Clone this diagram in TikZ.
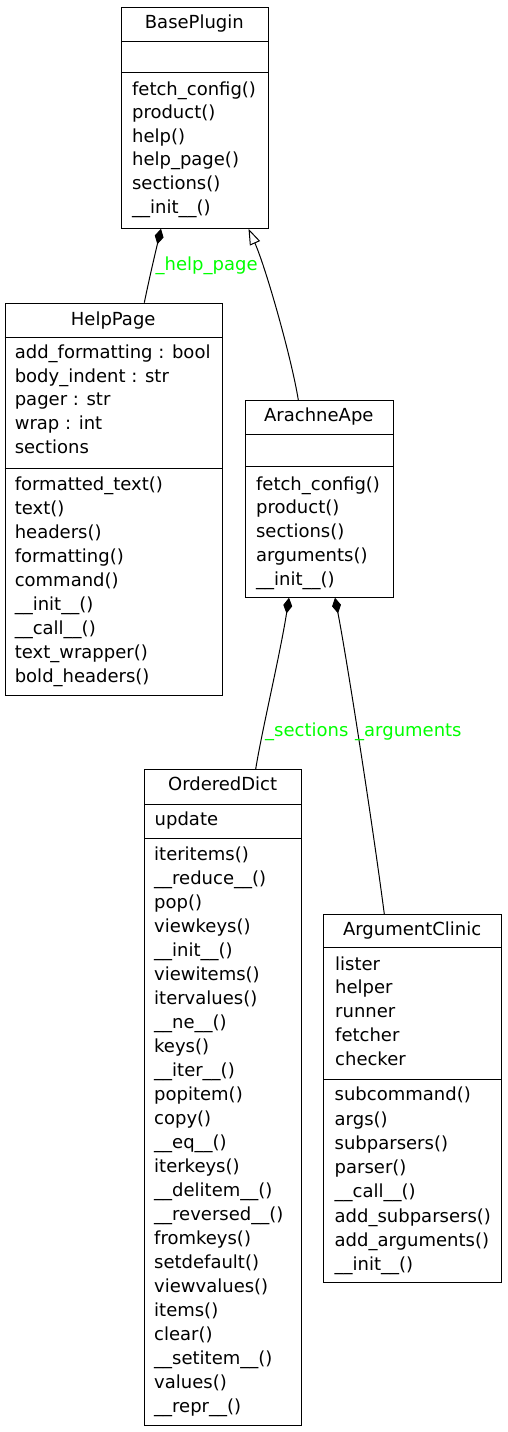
\documentclass[tikz,border=0pt]{standalone}
\usepackage{fontspec}
\setmainfont{DejaVu Sans}
\usetikzlibrary{arrows.meta}
\definecolor{lblgreen}{RGB}{0,255,0}
\newcommand\members[5]{%
  \foreach \t [count=\i] in {#5} {\node[txt] (#1-\i) at ({#2},{#3+(\i-1)*#4}) {\t};}}
\begin{document}
\begin{tikzpicture}[x=1pt,y=-1pt,
  box/.style={draw, line width=1pt, inner sep=0pt, anchor=north west},
  div/.style={line width=1pt},
  txt/.style={inner sep=0pt, anchor=base west, font=\fontsize{18}{24}\selectfont},
  ttl/.style={inner sep=0pt, anchor=base, font=\fontsize{18}{24}\selectfont},
  lbl/.style={txt, text=lblgreen},
  comp/.style={line width=1pt, -{Diamond[length=16pt,width=9pt]}},
  inh/.style={line width=1pt, -{Triangle[open,length=16pt,width=11pt]}}]
\useasboundingbox (0,0) rectangle (508,1432);
\fill[white] (0,0) rectangle (508,1432);

% BasePlugin
\node[box, minimum width=146.7pt, minimum height=220.7pt] (bp) at (121,7) {};
\draw[div] ([yshift=-34.7pt]bp.north west) -- ([yshift=-34.7pt]bp.north east);
\draw[div] ([yshift=-65.7pt]bp.north west) -- ([yshift=-65.7pt]bp.north east);
\node[ttl] (bpt) at (194.35,28.3) {BasePlugin};
\members{bpm}{131.9}{95}{23.6}{fetch\_config(), product(), help(), help\_page(), sections(), \_\_init\_\_()}

% HelpPage
\node[box, minimum width=217pt, minimum height=392.3pt] (hp) at (4.7,302.7) {};
\draw[div] ([yshift=-34.6pt]hp.north west) -- ([yshift=-34.6pt]hp.north east);
\draw[div] ([yshift=-165.6pt]hp.north west) -- ([yshift=-165.6pt]hp.north east);
\node[ttl] (hpt) at (113.2,325) {HelpPage};
\members{hpa}{14.6}{358.3}{23.8}{add\_formatting : bool, body\_indent : str, pager : str, wrap : int, sections}
\members{hpm}{14.6}{490.7}{24}{formatted\_text(), text(), headers(), formatting(), command(), \_\_init\_\_(), \_\_call\_\_(), text\_wrapper(), bold\_headers()}

% ArachneApe
\node[box, minimum width=147.7pt, minimum height=196.7pt] (aa) at (245,400) {};
\draw[div] ([yshift=-34pt]aa.north west) -- ([yshift=-34pt]aa.north east);
\draw[div] ([yshift=-66pt]aa.north west) -- ([yshift=-66pt]aa.north east);
\node[ttl] (aat) at (318.85,421.7) {ArachneApe};
\members{aam}{255.9}{490}{23.8}{fetch\_config(), product(), sections(), arguments(), \_\_init\_\_()}

% OrderedDict
\node[box, minimum width=156.7pt, minimum height=656pt] (od) at (144.3,769) {};
\draw[div] ([yshift=-35pt]od.north west) -- ([yshift=-35pt]od.north east);
\draw[div] ([yshift=-69.7pt]od.north west) -- ([yshift=-69.7pt]od.north east);
\node[ttl] (odt) at (222.65,790) {OrderedDict};
\members{oda}{154.5}{825}{24}{update}
\members{odm}{154}{860.7}{24}{iteritems(), \_\_reduce\_\_(), pop(), viewkeys(), \_\_init\_\_(), viewitems(), itervalues(), \_\_ne\_\_(), keys(), \_\_iter\_\_(), popitem(), copy(), \_\_eq\_\_(), iterkeys(), \_\_delitem\_\_(), \_\_reversed\_\_(), fromkeys(), setdefault(), viewvalues(), items(), clear(), \_\_setitem\_\_(), values(), \_\_repr\_\_()}

% ArgumentClinic
\node[box, minimum width=177.7pt, minimum height=367.7pt] (ac) at (323.3,914) {};
\draw[div] ([yshift=-33.7pt]ac.north west) -- ([yshift=-33.7pt]ac.north east);
\draw[div] ([yshift=-165pt]ac.north west) -- ([yshift=-165pt]ac.north east);
\node[ttl] (act) at (412.15,935) {ArgumentClinic};
\members{aca}{335}{970}{23.75}{lister, helper, runner, fetcher, checker}
\members{acm}{334.5}{1100.7}{24.3}{subcommand(), args(), subparsers(), parser(), \_\_call\_\_(), add\_subparsers(), add\_arguments(), \_\_init\_\_()}

% connectors
\draw[comp] ([xshift=139.6pt]hp.north west) .. controls (150,275) and (156,250) .. ([xshift=40pt]bp.south west);
\draw[inh] ([xshift=53.3pt]aa.north west) .. controls (292,360) and (266,268) .. ([xshift=127.5pt]bp.south west);
\draw[comp] ([xshift=111.4pt]od.north west) .. controls (262,730) and (280,655) .. ([xshift=44pt]aa.south west);
\draw[comp] ([xshift=61pt]ac.north west) .. controls (372,820) and (347,660) .. ([xshift=90pt]aa.south west);

% labels
\node[lbl] (lhp) at (155.5,270) {\_help\_page};
\node[lbl] (lsec) at (265,736.7) {\_sections};
\node[lbl] (larg) at (355,736.7) {\_arguments};
\end{tikzpicture}
\end{document}
